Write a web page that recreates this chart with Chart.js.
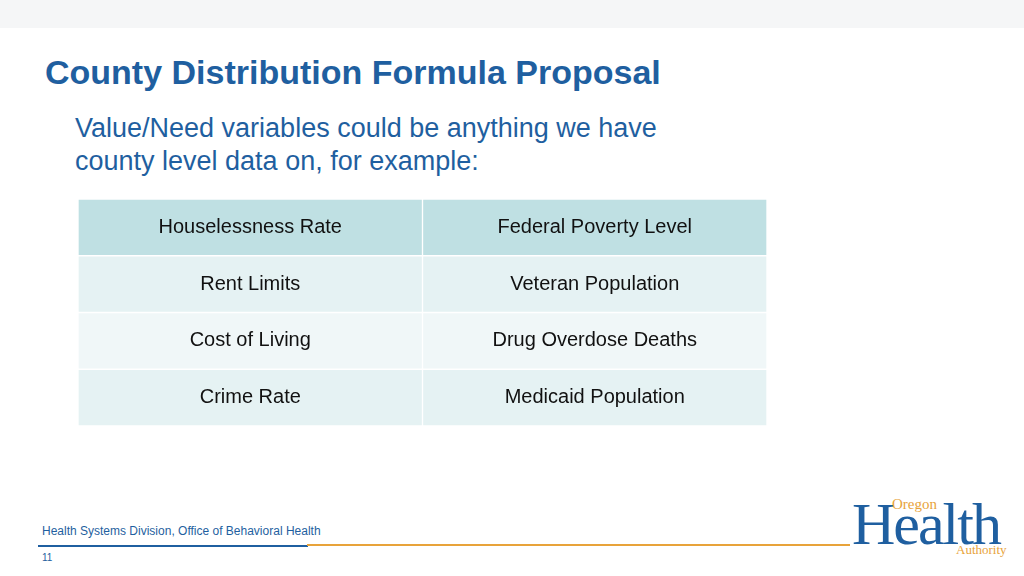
<!DOCTYPE html>
<html>
<head>
<meta charset="utf-8">
<script src="https://cdn.jsdelivr.net/npm/chart.js@4"></script>
<style>
  body { margin: 0; width: 1024px; height: 576px; background: #fff; font-family: "Liberation Sans", Arial, sans-serif; position: relative; overflow: hidden; }
  .topband { position: absolute; left: 0; top: 0; width: 1024px; height: 28px; background: #f5f6f7; }
  h1 { position: absolute; left: 45px; top: 53px; margin: 0; font-size: 34px; color: #1f5fa0; font-weight: bold; }
  .sub { position: absolute; left: 75px; top: 112px; font-size: 27px; line-height: 33px; color: #1f5fa0; }
  #wrap { position: absolute; left: 78px; top: 199px; width: 689px; height: 227px; }
  .foot { position: absolute; left: 42px; top: 524px; font-size: 12px; color: #1f5fa0; }
  .num { position: absolute; left: 42px; top: 552px; font-size: 10px; color: #1f5fa0; }
  .line1 { position: absolute; left: 38px; top: 545px; width: 270px; height: 2px; background: #1f5fa0; }
  .line2 { position: absolute; left: 307px; top: 544px; width: 543px; height: 2px; background: #e8a33a; }
  .logo { position: absolute; left: 852px; top: 494px; font-family: "Liberation Serif", serif; color: #1f5fa0; }
  .logo .h { font-size: 60px; letter-spacing: -2px; line-height: 60px; }
  .logo .o { position: absolute; left: 40px; top: 2px; font-size: 15px; color: #e8a33a; }
  .logo .a { position: absolute; left: 104px; top: 48px; font-size: 13px; color: #e8a33a; }
</style>
</head>
<body>
<div class="topband"></div>
<h1>County Distribution Formula Proposal</h1>
<div class="sub">Value/Need variables could be anything we have<br>county level data on, for example:</div>
<div id="wrap"><canvas id="tbl"></canvas></div>
<div class="foot">Health Systems Division, Office of Behavioral Health</div>
<div class="num">11</div>
<div class="line1"></div>
<div class="line2"></div>
<div class="logo"><span class="h">Health</span><span class="o">Oregon</span><span class="a">Authority</span></div>
<script>
const rows = ['r1', 'r2', 'r3', 'r4'];
const leftCol = ['Houselessness Rate', 'Rent Limits', 'Cost of Living', 'Crime Rate'];
const rightCol = ['Federal Poverty Level', 'Veteran Population', 'Drug Overdose Deaths', 'Medicaid Population'];
const rowColors = ['#bfe0e3', '#e5f2f3', '#f0f7f8', '#e5f2f3'];

const cellText = {
  id: 'cellText',
  afterDatasetsDraw(chart) {
    const ctx = chart.ctx;
    ctx.save();
    ctx.font = '20px "Liberation Sans", Arial, sans-serif';
    ctx.fillStyle = '#111';
    ctx.textAlign = 'center';
    ctx.textBaseline = 'middle';
    [leftCol, rightCol].forEach((texts, di) => {
      chart.getDatasetMeta(di).data.forEach((bar, i) => {
        const p = bar.getProps(['x', 'y', 'base'], true);
        ctx.fillText(texts[i], (p.x + p.base) / 2, p.y);
      });
    });
    ctx.restore();
  }
};

new Chart(document.getElementById('tbl'), {
  type: 'bar',
  data: {
    labels: rows,
    datasets: [
      { data: rows.map(() => [0, 1]), backgroundColor: rowColors, borderColor: '#fff', borderWidth: 1, borderSkipped: false },
      { data: rows.map(() => [1, 2]), backgroundColor: rowColors, borderColor: '#fff', borderWidth: 1, borderSkipped: false }
    ]
  },
  options: {
    indexAxis: 'y',
    responsive: true,
    maintainAspectRatio: false,
    animation: false,
    layout: { padding: 0 },
    plugins: { legend: { display: false }, tooltip: { enabled: false } },
    scales: {
      x: { display: false, min: 0, max: 2 },
      y: { display: false, stacked: true }
    },
    datasets: { bar: { grouped: false, categoryPercentage: 1, barPercentage: 1 } }
  },
  plugins: [cellText]
});
</script>
</body>
</html>
